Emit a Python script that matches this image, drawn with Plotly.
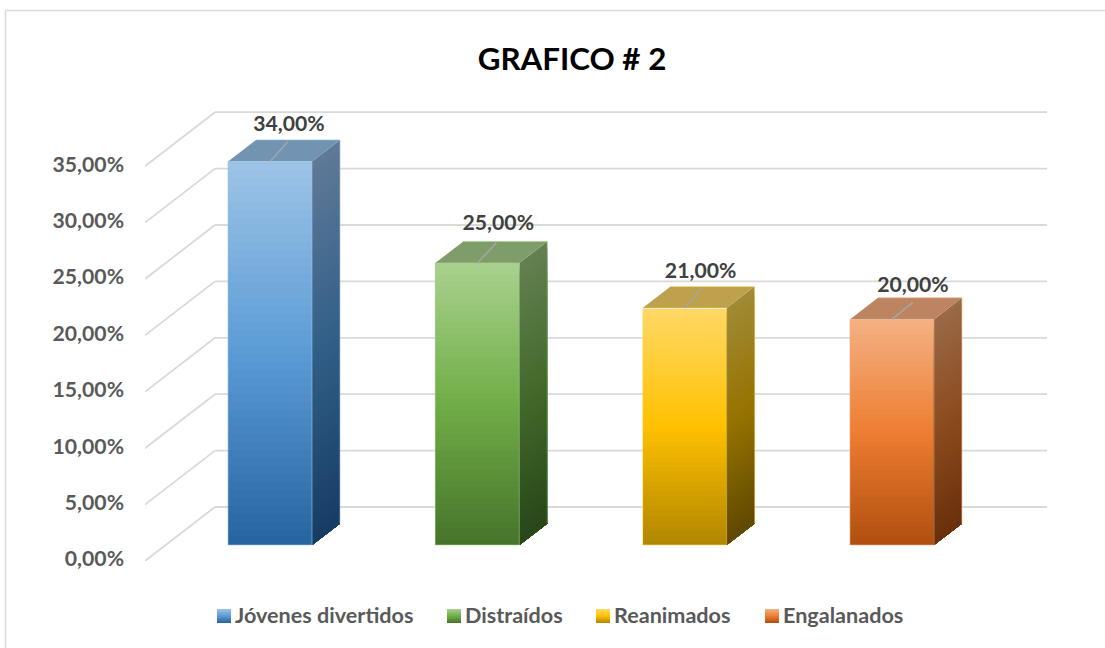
import plotly.graph_objects as go

title = 'GRAFICO # 2'
categories = ['Jóvenes divertidos', 'Distraídos', 'Reanimados', 'Engalanados']
values = [34, 25, 21, 20]
tick_values = [0, 5, 10, 15, 20, 25, 30, 35]

# gradient stops per bar: top, middle, bottom
front_stops = [
    [(157, 195, 230), (91, 155, 213), (38, 100, 160)],
    [(169, 209, 142), (112, 173, 71), (70, 115, 42)],
    [(255, 217, 102), (255, 192, 0), (176, 134, 0)],
    [(244, 177, 131), (237, 125, 49), (176, 78, 15)],
]
side_stops = [
    [(96, 122, 152), (50, 95, 135), (22, 60, 100)],
    [(100, 128, 82), (66, 105, 42), (40, 70, 25)],
    [(160, 138, 54), (150, 115, 0), (95, 72, 0)],
    [(154, 106, 72), (140, 75, 30), (105, 48, 10)],
]
top_colors = ['#7393B2', '#7F9D6B', '#BFA14D', '#BC8460']
edge_colors = ['rgba(157,195,230,0.6)', 'rgba(169,209,142,0.6)',
               'rgba(255,217,102,0.6)', 'rgba(244,177,131,0.6)']

W, H = 1105, 648
PLOT_LEFT, PLOT_RIGHT = 145, 1047
Y_ZERO, PX_PER_UNIT = 561, 11.28
Y_MAX = 41
FIRST_BAR, BAR_STEP, BAR_PX = 270, 207.3, 84
WALL_DX, WALL_DY = 70, 54
BASE_PX, SIDE_DX, SIDE_DY = 16, 28, 21.6
STRIPS = 48

# leader line end and label centre, px from the top centre of the front face
leader_ends = [(18, -20), (19, -20), (17, -20), (21, -17)]
label_offsets = [(19, -36), (21, -38), (16, -35), (21, -33)]
legend_swatch_x = [217, 447, 596, 765]
LEGEND_Y = 616

FONT = 'Lato'


def dx(px):
    return px / BAR_STEP


def dy(px):
    return px / PX_PER_UNIT


def shade(stops, t):
    a, b = (stops[0], stops[1]) if t < 0.5 else (stops[1], stops[2])
    f = t * 2 if t < 0.5 else t * 2 - 1
    r, g, bl = [round(a[i] + (b[i] - a[i]) * f) for i in range(3)]
    return f'rgb({r},{g},{bl})'


x_range = [(PLOT_LEFT - FIRST_BAR) / BAR_STEP, (PLOT_RIGHT - FIRST_BAR) / BAR_STEP]
positions = list(range(len(values)))
base = dy(BASE_PX)
half = dx(BAR_PX) / 2

fig = go.Figure()

# front faces, stacked thin bars to get the vertical gradient
for s in range(STRIPS):
    fig.add_trace(go.Bar(
        x=positions,
        y=[v / STRIPS for v in values],
        base=[base + v * (1 - (s + 1) / STRIPS) for v in values],
        width=dx(BAR_PX),
        marker=dict(color=[shade(st, (s + 0.5) / STRIPS) for st in front_stops], line_width=0),
        hoverinfo='skip',
        showlegend=False,
    ))

for i, v in enumerate(values):
    xr = i + half
    xb = xr + dx(SIDE_DX)
    top = base + v
    # side face, painted top to bottom so the strips leave no seams
    for s in range(STRIPS):
        y_a = base + v * (1 - s / STRIPS)
        fig.add_trace(go.Scatter(
            x=[xr, xb, xb, xr, xr],
            y=[y_a, y_a + dy(SIDE_DY), base + dy(SIDE_DY), base, y_a],
            mode='lines', line_width=0, fill='toself',
            fillcolor=shade(side_stops[i], (s + 0.5) / STRIPS),
            hoverinfo='skip', showlegend=False,
        ))
    # top face
    xl = i - half
    fig.add_trace(go.Scatter(
        x=[xl, xr, xb, xl + dx(SIDE_DX), xl],
        y=[top, top, top + dy(SIDE_DY), top + dy(SIDE_DY), top],
        mode='lines', line_width=0, fill='toself', fillcolor=top_colors[i],
        hoverinfo='skip', showlegend=False,
    ))
    # thin light outline of the box
    fig.add_trace(go.Scatter(
        x=[xl, xr, xr, xl, xl, None, xl + dx(SIDE_DX), xb, xb],
        y=[base, base, top, top, base, None, top + dy(SIDE_DY), top + dy(SIDE_DY), base + dy(SIDE_DY)],
        mode='lines', line=dict(color=edge_colors[i], width=1),
        hoverinfo='skip', showlegend=False,
    ))
    # leader line
    ex, ey = leader_ends[i]
    fig.add_trace(go.Scatter(
        x=[i, i + dx(ex)], y=[top, top - dy(ey)],
        mode='lines', line=dict(color='#A6A6A6', width=1.5),
        hoverinfo='skip', showlegend=False,
    ))

fig.add_trace(go.Scatter(
    x=[i + dx(label_offsets[i][0]) for i in positions],
    y=[base + v - dy(label_offsets[i][1]) for i, v in enumerate(values)],
    text=[f'{v:.2f}%'.replace('.', ',') for v in values],
    mode='text', textposition='middle center',
    textfont=dict(family=FONT, size=21.2, color='#404040', weight=700),
    hoverinfo='skip', showlegend=False,
))

shapes = []
# floor diagonals and back wall gridlines
for t in tick_values:
    xw = x_range[0] + dx(WALL_DX)
    yw = t + dy(WALL_DY)
    line = dict(color='#D9D9D9', width=1.8)
    shapes.append(dict(type='line', xref='x', yref='y', layer='below',
                       x0=x_range[0], y0=t, x1=xw, y1=yw, line=line))
    shapes.append(dict(type='line', xref='x', yref='y', layer='below',
                       x0=xw, y0=yw, x1=x_range[1], y1=yw, line=line))

# chart frame, only the top and left edges show
frame = dict(color='#D9D9D9', width=1.5)
shapes.append(dict(type='line', xref='paper', yref='paper', layer='below',
                   x0=5.5 / W, y0=1 - 10.5 / H, x1=1, y1=1 - 10.5 / H, line=frame))
shapes.append(dict(type='line', xref='paper', yref='paper', layer='below',
                   x0=5.5 / W, y0=1 - 10.5 / H, x1=5.5 / W, y1=0, line=frame))

# legend, drawn by hand for the gradient swatches
annotations = []
SW = 14
for i, name in enumerate(categories):
    sx = legend_swatch_x[i]
    for s in range(SW):
        shapes.append(dict(
            type='rect', xref='paper', yref='paper', line_width=0,
            x0=sx / W, x1=(sx + SW) / W,
            y0=1 - (LEGEND_Y - SW / 2 + s + 1) / H, y1=1 - (LEGEND_Y - SW / 2 + s) / H,
            fillcolor=shade(front_stops[i], (s + 0.5) / SW),
        ))
    annotations.append(dict(
        text=name, xref='paper', yref='paper', showarrow=False,
        x=(sx + SW + 2) / W, y=1 - (LEGEND_Y - 1.5) / H, xanchor='left', yanchor='middle',
        font=dict(family=FONT, size=21.6, color='#595959', weight=700),
    ))

fig.update_layout(
    width=W, height=H,
    margin=dict(l=0, r=0, t=0, b=0, autoexpand=False),
    paper_bgcolor='white', plot_bgcolor='rgba(0,0,0,0)',
    barmode='overlay', bargap=0,
    showlegend=False,
    title=dict(text=title, x=572 / W, xanchor='center', y=1 - 59 / H, yanchor='middle',
               font=dict(family=FONT, size=31.3, color='black', weight=700)),
    xaxis=dict(domain=[PLOT_LEFT / W, PLOT_RIGHT / W], range=x_range, visible=False),
    yaxis=dict(
        domain=[1 - Y_ZERO / H, 1 - (Y_ZERO - Y_MAX * PX_PER_UNIT) / H],
        range=[0, Y_MAX],
        tickmode='array', tickvals=tick_values,
        ticktext=[f'{t:.2f}%'.replace('.', ',') for t in tick_values],
        tickfont=dict(family=FONT, size=21.2, color='#595959', weight=700),
        ticks='', ticklabelstandoff=20, ticklabelshift=-2,
        showgrid=False, zeroline=False, showline=False,
    ),
    shapes=shapes,
    annotations=annotations,
)

fig.write_html("out.html", config=dict(displayModeBar=False),
               post_script="document.body.style.margin='0';")
